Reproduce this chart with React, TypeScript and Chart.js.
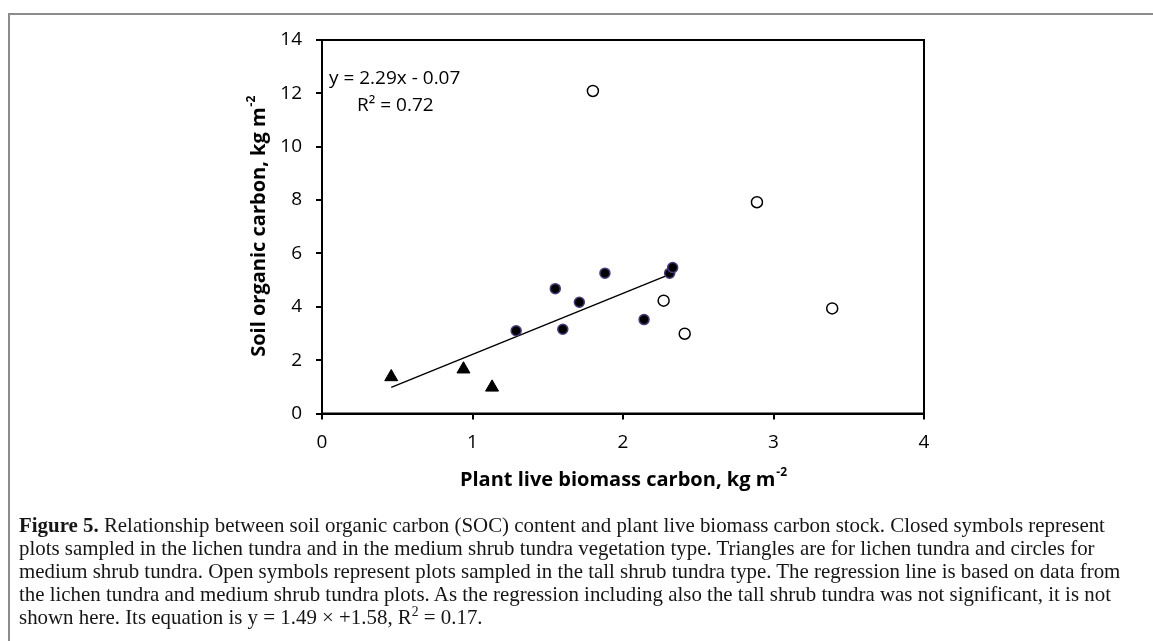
import React, { useEffect, useRef } from "react";
import { Chart, registerables } from "chart.js";

Chart.register(...registerables);

// ---- data ----
const lichenX = [0.46, 0.94, 1.13];
const lichenY = [1.37, 1.66, 0.98];
const mediumX = [1.29, 1.55, 1.6, 1.71, 1.88, 2.14, 2.31, 2.33];
const mediumY = [3.1, 4.68, 3.16, 4.17, 5.26, 3.52, 5.26, 5.47];
const tallX = [1.8, 2.27, 2.41, 2.89, 3.39];
const tallY = [12.09, 4.23, 2.99, 7.92, 3.94];
const fitX = [0.46, 2.29];
const fitY = [0.98, 5.17];
const xTicks = [0, 1, 2, 3, 4];
const yTicks = [0, 2, 4, 6, 8, 10, 12, 14];
const equationLines = ["y = 2.29x - 0.07", "R\u00B2 = 0.72"];
const xTitle = "Plant live biomass carbon, kg m";
const yTitle = "Soil organic carbon, kg m";
const unitSup = "-2";

const FONT = "'Open Sans', sans-serif";

const pts = (xs: number[], ys: number[]) => xs.map((x, i) => ({ x, y: ys[i] }));

function drawSup(
  ctx: CanvasRenderingContext2D,
  cx: number,
  cy: number,
  main: string,
  sup: string,
  size: number,
  rot: number
) {
  ctx.save();
  ctx.translate(cx, cy);
  ctx.rotate(rot);
  ctx.textBaseline = "middle";
  ctx.textAlign = "left";
  ctx.fillStyle = "#000";
  const mainFont = `bold ${size}px ${FONT}`;
  const supSize = Math.round(size * 0.62);
  const supFont = `bold ${supSize}px ${FONT}`;
  ctx.font = mainFont;
  const wMain = ctx.measureText(main).width;
  ctx.font = supFont;
  const wSup = ctx.measureText(sup).width;
  const start = -(wMain + wSup) / 2;
  ctx.font = mainFont;
  ctx.fillText(main, start, 0);
  ctx.font = supFont;
  ctx.fillText(sup, start + wMain + 1, -size * 0.36);
  ctx.restore();
}

const overlayPlugin = {
  id: "overlay",
  beforeDatasetsDraw(chart: any) {
    const { ctx, chartArea: a } = chart;
    ctx.save();
    ctx.strokeStyle = "#000";
    ctx.lineWidth = 2;
    ctx.strokeRect(a.left, a.top, a.right - a.left, a.bottom - a.top);
    ctx.restore();
  },
  afterDraw(chart: any) {
    const { ctx, chartArea: a } = chart;
    ctx.save();
    ctx.fillStyle = "#000";
    ctx.font = `19px ${FONT}`;
    ctx.textBaseline = "middle";
    ctx.textAlign = "left";
    ctx.fillText(equationLines[0], a.left + 7, a.top + 39);
    ctx.fillText(equationLines[1], a.left + 35, a.top + 66);
    ctx.restore();
    drawSup(ctx, (a.left + a.right) / 2, 480, xTitle, unitSup, 20, 0);
    drawSup(ctx, 259, (a.top + a.bottom) / 2, yTitle, unitSup, 20, -Math.PI / 2);
  },
};

export default function App() {
  const ref = useRef<HTMLCanvasElement | null>(null);

  useEffect(() => {
    if (!ref.current) return;
    const tickFont = { family: FONT, size: 19 };
    const chart = new Chart(ref.current, {
      type: "scatter",
      data: {
        datasets: [
          {
            label: "Lichen tundra",
            data: pts(lichenX, lichenY),
            pointStyle: "triangle",
            pointRadius: 7.5,
            backgroundColor: "#000",
            borderColor: "#000",
            borderWidth: 1,
            order: 1,
          },
          {
            label: "Medium shrub tundra",
            data: pts(mediumX, mediumY),
            pointStyle: "circle",
            pointRadius: 5,
            backgroundColor: "#000",
            borderColor: "#4b3a78",
            borderWidth: 1.5,
            order: 1,
          },
          {
            label: "Tall shrub tundra",
            data: pts(tallX, tallY),
            pointStyle: "circle",
            pointRadius: 5.5,
            backgroundColor: "#fff",
            borderColor: "#000",
            borderWidth: 1.5,
            order: 1,
          },
          {
            type: "line",
            label: "Regression",
            data: pts(fitX, fitY),
            borderColor: "#000",
            borderWidth: 1.5,
            pointRadius: 0,
            fill: false,
            order: 10,
          } as any,
        ],
      },
      options: {
        animation: false,
        responsive: false,
        devicePixelRatio: 1,
        layout: { padding: { left: 250, top: 40, right: 229, bottom: 147.5 } },
        plugins: { legend: { display: false }, tooltip: { enabled: false } },
        scales: {
          x: {
            type: "linear",
            position: "bottom",
            min: 0,
            max: 4,
            afterBuildTicks: (s: any) => {
              s.ticks = xTicks.map((v) => ({ value: v }));
            },
            afterFit: (s: any) => {
              s.height = 80;
            },
            grid: {
              drawOnChartArea: false,
              drawTicks: true,
              tickLength: 6,
              color: "#000",
              lineWidth: 2,
            },
            border: { display: true, color: "#000", width: 2 },
            ticks: { color: "#000", font: tickFont, padding: 12, maxRotation: 0 },
          },
          y: {
            type: "linear",
            position: "left",
            min: 0,
            max: 14,
            afterBuildTicks: (s: any) => {
              s.ticks = yTicks.map((v) => ({ value: v }));
            },
            afterFit: (s: any) => {
              s.width = 72;
            },
            grid: {
              drawOnChartArea: false,
              drawTicks: true,
              tickLength: 6,
              color: "#000",
              lineWidth: 2,
            },
            border: { display: true, color: "#000", width: 2 },
            ticks: { color: "#000", font: tickFont, padding: 14 },
          },
        },
      },
      plugins: [overlayPlugin],
    });
    return () => chart.destroy();
  }, []);

  const capStyle: React.CSSProperties = { whiteSpace: "nowrap", height: 23, lineHeight: "23px" };

  return (
    <div style={{ position: "absolute", left: 0, top: 0, width: 1153, height: 641, overflow: "hidden", background: "#fff" }}>
      <div
        style={{
          position: "absolute",
          left: 8,
          top: 13,
          width: 1145,
          height: 628,
          borderTop: "2px solid #8c8c8c",
          borderLeft: "2px solid #8c8c8c",
          boxSizing: "border-box",
        }}
      />
      <canvas ref={ref} width={1153} height={641} style={{ position: "absolute", left: 0, top: 0, width: 1153, height: 641 }} />
      <div
        style={{
          position: "absolute",
          left: 19,
          top: 513.5,
          fontFamily: "'Liberation Serif', serif",
          fontSize: 20.9,
          color: "#161616",
        }}
      >
        <div style={capStyle}>
          <b>Figure 5.</b> Relationship between soil organic carbon (SOC) content and plant live biomass carbon stock. Closed symbols represent
        </div>
        <div style={capStyle}>
          plots sampled in the lichen tundra and in the medium shrub tundra vegetation type. Triangles are for lichen tundra and circles for
        </div>
        <div style={capStyle}>
          medium shrub tundra. Open symbols represent plots sampled in the tall shrub tundra type. The regression line is based on data from
        </div>
        <div style={capStyle}>
          the lichen tundra and medium shrub tundra plots. As the regression including also the tall shrub tundra was not significant, it is not
        </div>
        <div style={capStyle}>
          shown here. Its equation is y = 1.49 × +1.58, R<sup style={{ fontSize: "0.65em", lineHeight: 0 }}>2</sup> = 0.17.
        </div>
      </div>
    </div>
  );
}
